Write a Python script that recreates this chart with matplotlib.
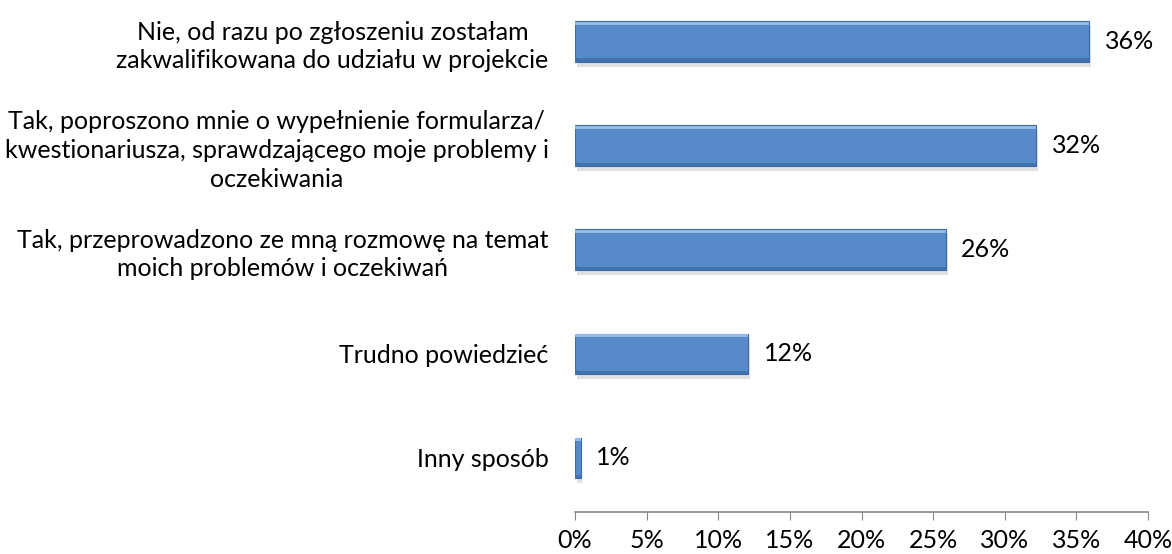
import numpy as np
import matplotlib.pyplot as plt

categories = ['Nie, od razu po zgłoszeniu zostałam\nzakwalifikowana do udziału w projekcie',
              'Tak, poproszono mnie o wypełnienie formularza/\nkwestionariusza, sprawdzającego moje problemy i\noczekiwania',
              'Tak, przeprowadzono ze mną rozmowę na temat\nmoich problemów i oczekiwań',
              'Trudno powiedzieć',
              'Inny sposób']
values = [35.9, 32.2, 25.9, 12.1, 0.4]
value_labels = ['36%', '32%', '26%', '12%', '1%']
xticks = [0, 5, 10, 15, 20, 25, 30, 35, 40]

plt.rcParams['font.family'] = ['Lato', 'DejaVu Sans']

fig = plt.figure(figsize=(11.72, 5.54), dpi=100, facecolor='white')
ax = fig.add_axes([575/1172, 42/554, (1148-575)/1172, 512/554])

n = len(categories)
y = np.arange(n)[::-1]
h = 0.39

# cien pod slupkami
ax.barh(y - 0.045, values, height=h, left=0.12, color='#a8a8a8', alpha=0.35, zorder=1)
# slupek z efektem fazowania
ax.barh(y, values, height=h, color='#5889c9', edgecolor='#3e6ba5', linewidth=0.8, zorder=2)
ax.barh(y + h/2 - 0.02, values, height=0.035, color='#94b9e8', zorder=3)
ax.barh(y - h/2 + 0.018, values, height=0.03, color='#4271ad', zorder=3)

for yi, v, lab in zip(y, values, value_labels):
    ax.annotate(lab, (v, yi), xytext=(11, 0), textcoords='offset points',
                va='center', ha='left', fontsize=18, color='black')

ax.set_xlim(0, 40)
ax.set_ylim(-0.52, 4.4)
ax.set_xticks(xticks)
ax.set_xticklabels([f'{t}%' for t in xticks], fontsize=18)
ax.set_yticks(y)
ax.set_yticklabels(categories, fontsize=18, multialignment='center', linespacing=1.3)
ax.tick_params(axis='y', length=0, pad=19)
ax.tick_params(axis='x', direction='out', length=6, color='#868686', pad=6)

for s in ['top', 'right', 'left']:
    ax.spines[s].set_visible(False)
ax.spines['bottom'].set_color('#868686')
ax.spines['bottom'].set_linewidth(1.2)

fig.savefig('out.png', dpi=100)
